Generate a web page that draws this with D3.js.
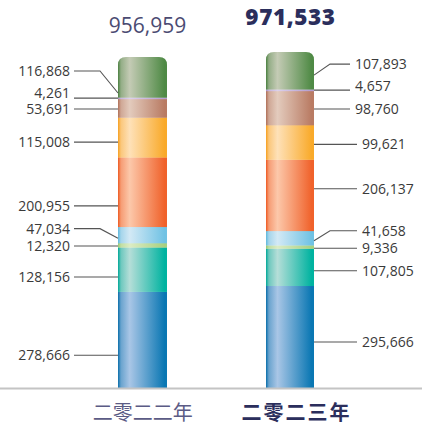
<!DOCTYPE html>
<html><head><meta charset="utf-8">
<script src="https://cdn.jsdelivr.net/npm/d3@7/dist/d3.min.js"></script>
<style>html,body{margin:0;padding:0;background:#fff;}svg{display:block;}</style>
</head><body>
<svg id="c" width="422" height="426"></svg>
<script>
// ---- data ----
const years = ["二零二二年", "二零二三年"];
const totals = [956959, 971533];
const totalLabels = ["956,959", "971,533"];
// segments bottom -> top
const values2022 = [278666, 128156, 12320, 47034, 200955, 115008, 53691, 4261, 116868];
const values2023 = [295666, 107805, 9336, 41658, 206137, 99621, 98760, 4657, 107893];
const labels2022 = ["278,666","128,156","12,320","47,034","200,955","115,008","53,691","4,261","116,868"];
const labels2023 = ["295,666","107,805","9,336","41,658","206,137","99,621","98,760","4,657","107,893"];

// ---- styles / layout ----
const colors = [
  ["#0a6eaa", "#a9c6e6", "#0a77b3"],
  ["#00a898", "#b5ded8", "#00b3a0"],
  ["#98c870", "#dcecc4", "#a8d080"],
  ["#5fb8dc", "#d3e9f5", "#70c2e4"],
  ["#ee5a22", "#fcc8aa", "#f0622b"],
  ["#f6a020", "#fee1b8", "#f9aa2a"],
  ["#b07058", "#e3cbbd", "#b97b63"],
  ["#a890c8", "#dcd0ec", "#b49dd0"],
  ["#4a8040", "#c4cbb5", "#4f8a45"]
];
// anchor fraction within segment, label vertical offset from anchor (kinked leader), text dy
const anchorFrac = [
  [0.34, 0.33, 0.3, 0.3, 0.3, 0.38, 0.46, 0.5, 0.11],
  [0.45, 0.40, 0.05, 0.31, 0.59, 0.44, 0.47, 0.5, 0.38]
];
const kinkDy = [
  [0, 0, 0, -9.5, 0, 0, 0, 0, -22],
  [0, 0, 0, -10, 0, 0, 0, 0, -11]
];
const textDy = [
  [0, 0, 0, 0, 0, 0, 0.5, -5, 0],
  [0, 0, 0, 0, 0, 0, 0, -4.5, 0]
];
const rightTextX = [362, 362, 362, 362, 362, 362, 355, 355, 355];

const svg = d3.select("#c");
const W = 422, base = 388;
const barX = [118, 266], barW = [49, 48];
const y = d3.scaleLinear().domain([0, 956959]).range([base, 57]);

const defs = svg.append("defs");
colors.forEach((c, i) => {
  const g = defs.append("linearGradient").attr("id", "g" + i)
    .attr("x1", "0").attr("x2", "1").attr("y1", "0").attr("y2", "0");
  g.append("stop").attr("offset", "0%").attr("stop-color", c[0]);
  g.append("stop").attr("offset", "6%").attr("stop-color", d3.interpolateRgb(c[0], c[1])(0.6));
  g.append("stop").attr("offset", "24%").attr("stop-color", c[1]);
  g.append("stop").attr("offset", "95%").attr("stop-color", c[2]);
  g.append("stop").attr("offset", "100%").attr("stop-color", c[2]);
});

const allVals = [values2022, values2023];
const allLabels = [labels2022, labels2023];

allVals.forEach((vals, b) => {
  const x0 = barX[b], w = barW[b];
  const top = y(d3.sum(vals));
  const r = 8;
  const clipId = "clip" + b;
  defs.append("clipPath").attr("id", clipId).append("path")
    .attr("d", `M${x0},${base} L${x0},${top + r} Q${x0},${top} ${x0 + r},${top} L${x0 + w - r},${top} Q${x0 + w},${top} ${x0 + w},${top + r} L${x0 + w},${base} Z`);
  const gBar = svg.append("g").attr("clip-path", `url(#${clipId})`);
  let cum = 0;
  const segs = vals.map((v, i) => { const s = {v, i, y0: cum, y1: cum + v}; cum += v; return s; });
  gBar.selectAll("rect").data(segs).join("rect")
    .attr("x", x0).attr("width", w)
    .attr("y", d => y(d.y1)).attr("height", d => y(d.y0) - y(d.y1) + 0.3)
    .attr("fill", d => `url(#g${d.i})`);

  // leaders
  const gl = svg.append("g");
  segs.forEach(s => {
    const ay = y(s.y0 + anchorFrac[b][s.i] * s.v);
    const ly = ay + kinkDy[b][s.i];
    let pts;
    if (b === 0) {
      const xs = 74, xe = x0;
      pts = kinkDy[b][s.i] ? [[xs, ly], [100, ly], [xe, ay]] : [[xs, ay], [xe, ay]];
    } else {
      const xs = x0 + w, xe = rightTextX[s.i] - 5;
      pts = kinkDy[b][s.i] ? [[xs, ay], [xs + 16, ly], [xe, ly]] : [[xs, ay], [xe, ay]];
    }
    gl.append("path").attr("d", d3.line()(pts))
      .attr("fill", "none").attr("stroke", "#555").attr("stroke-width", 1.1);
    gl.append("text")
      .attr("x", b === 0 ? 70 : rightTextX[s.i])
      .attr("y", ly + textDy[b][s.i])
      .attr("dy", "0.36em")
      .attr("text-anchor", b === 0 ? "end" : "start")
      .attr("font-family", "'Open Sans', sans-serif")
      .attr("font-size", 14)
      .attr("fill", "#3a3a3a")
      .text(allLabels[b][s.i]);
  });
});

// axis line
svg.append("line").attr("x1", 0).attr("x2", W).attr("y1", base + 0.5).attr("y2", base + 0.5)
  .attr("stroke", "#c4c4c4").attr("stroke-width", 2);

// totals
svg.append("text").attr("x", 147.5).attr("y", 33).attr("text-anchor", "middle")
  .attr("font-family", "'Open Sans', sans-serif").attr("font-size", 21)
  .attr("fill", "#4b4b72").text(totalLabels[0]);
svg.append("text").attr("x", 290.5).attr("y", 25).attr("text-anchor", "middle")
  .attr("font-family", "'Open Sans', sans-serif").attr("font-size", 22.5).attr("font-weight", 800)
  .attr("letter-spacing", 0.6)
  .attr("fill", "#2b2e5c").text(totalLabels[1]);

// year labels
svg.append("text").attr("x", 142.7).attr("y", 420).attr("text-anchor", "middle")
  .attr("font-family", "'Noto Sans CJK SC', sans-serif").attr("font-size", 20)
  .attr("fill", "#5b5b85").text(years[0]);
svg.append("text").attr("x", 296.5).attr("y", 420).attr("text-anchor", "middle")
  .attr("font-family", "'Noto Sans CJK SC', sans-serif").attr("font-size", 20).attr("font-weight", 700)
  .attr("letter-spacing", 2)
  .attr("fill", "#2b2e5c").text(years[1]);
</script>
</body></html>
